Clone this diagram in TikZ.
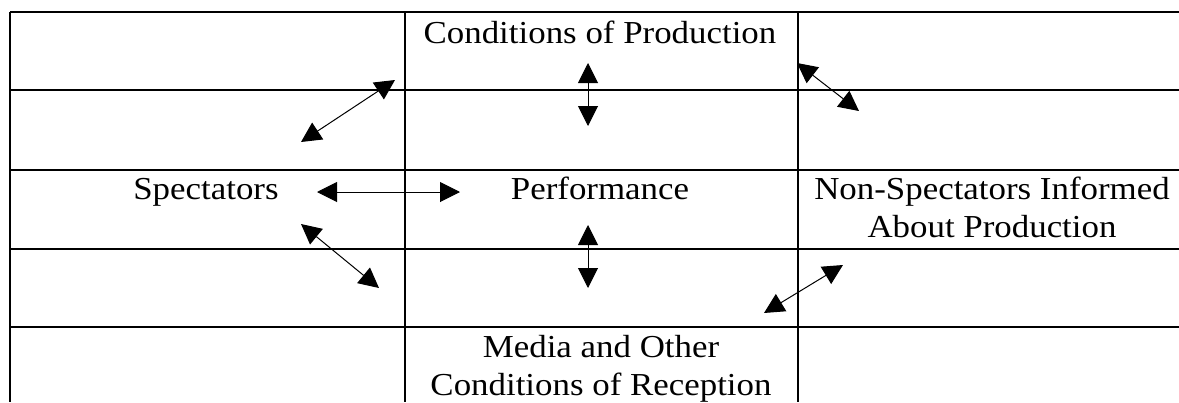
\documentclass[tikz,border=0pt]{standalone}
\usepackage{fontspec}
\setmainfont[FakeStretch=1.09]{Liberation Serif}
\usetikzlibrary{arrows.meta}
\tikzset{
  rule/.style={line width=1.3pt},
  link/.style={{Triangle[length=20pt,width=20pt]}-{Triangle[length=20pt,width=20pt]}, line width=1pt},
  celltext/.style={anchor=base, inner sep=0pt, align=center, font=\fontsize{32}{38}\selectfont}
}
\begin{document}
\begin{tikzpicture}[x=1pt,y=-1pt]
    \useasboundingbox (0,0) rectangle (1179,402);
    % table
    \foreach \y in {12,90,170,249,327}
      \draw [rule] (10,\y) -- (1179,\y);
    \foreach \x in {10,405,798}
      \draw [rule] (\x,12) -- (\x,402);
    % texts (base = last line)
    \node [celltext] (C) at (600,43) {Conditions of Production};
    \node [celltext] (S) at (206,199) {Spectators};
    \node [celltext] (P) at (600,199) {Performance};
    \node [celltext] (N) at (992,237) {Non-Spectators Informed\\About Production};
    \node [celltext] (M) at (601,395) {Media and Other\\Conditions of Reception};
    % arrow ends
    \coordinate (SC1) at (301,142);
    \coordinate (SC2) at (395,80);
    \coordinate (CP1) at (588,63);
    \coordinate (CP2) at (588,126);
    \coordinate (CN1) at (797,63);
    \coordinate (CN2) at (859,111);
    \coordinate (SP1) at (317,192);
    \coordinate (SP2) at (460,192);
    \coordinate (SM1) at (301,224);
    \coordinate (SM2) at (379,288);
    \coordinate (PM1) at (588,225);
    \coordinate (PM2) at (588,288);
    \coordinate (NM1) at (764,313);
    \coordinate (NM2) at (843,265);
    \path [link] (SC1) edge (SC2);
    \path [link] (CP1) edge (CP2);
    \path [link] (CN1) edge (CN2);
    \path [link] (SP1) edge (SP2);
    \path [link] (SM1) edge (SM2);
    \path [link] (PM1) edge (PM2);
    \path [link] (NM1) edge (NM2);
\end{tikzpicture}
\end{document}
